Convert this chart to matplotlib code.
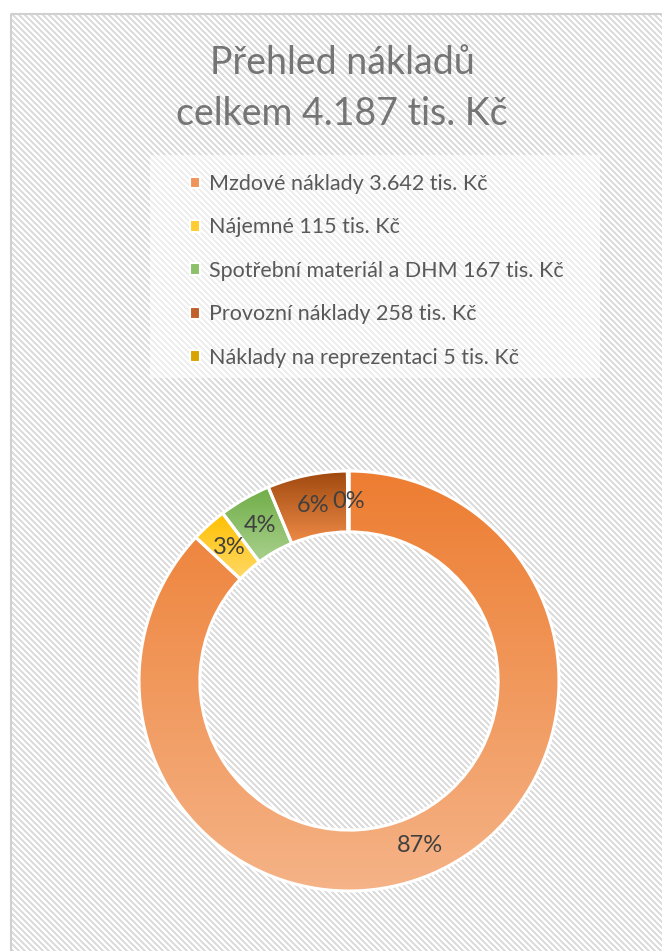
import numpy as np
import matplotlib.pyplot as plt
from matplotlib.patches import Patch, Rectangle
from matplotlib.colors import to_rgb

plt.rcParams['font.family'] = ['Lato', 'DejaVu Sans']

# data
categories = ["Mzdové náklady", "Nájemné", "Spotřební materiál a DHM",
              "Provozní náklady", "Náklady na reprezentaci"]
values = [3642, 115, 167, 258, 5]
top_colors = ["#ED7D31", "#FFC000", "#70AD47", "#9E480E", "#B08A00"]
bottom_colors = ["#F5B387", "#FFD966", "#A9D18E", "#EE8A47", "#FFC000"]
legend_colors = ["#F0955A", "#FFCC33", "#8CC06A", "#C0602A", "#D8A500"]

total = sum(values)


def tis(v):
    return f"{v:,}".replace(",", ".")


title_lines = ["Přehled nákladů", f"celkem {tis(total)} tis. Kč"]
labels = [f"{c} {tis(v)} tis. Kč" for c, v in zip(categories, values)]

W, H = 662, 951
fig = plt.figure(figsize=(W / 100, H / 100), dpi=100)

# striped chart background
bg = fig.add_axes([10 / W, 0, 1 - 10 / W, 1 - 13 / H])
bg.set_axis_off()
rows, cols = H - 13, W - 10
jj, ii = np.meshgrid(np.arange(cols), np.arange(rows))
stripe = ((jj - ii) % 6) < 3
img = np.ones((rows, cols, 3))
img[stripe] = 0.87
bg.imshow(img, interpolation="nearest", aspect="auto")
bg.add_patch(Rectangle((0, 0), cols + 20, rows + 20, fill=False,
                       edgecolor="#D0D0D0", linewidth=1.5, clip_on=False))

# legend box
fig.patches.append(Rectangle((150 / W, 1 - 378 / H), 450 / W, 223 / H,
                             transform=fig.transFigure, facecolor="white",
                             alpha=0.55, edgecolor="none"))

# title
for k, line in enumerate(title_lines):
    fig.text(342 / W, 1 - (63 + 51 * k) / H, line, ha="center", va="center",
             fontsize=27, color="#757575")

# donut
ax = fig.add_axes([139 / W, 60 / H, 420 / W, 420 / H])
ring = 0.29
wedges, _, pcts = ax.pie(values, startangle=90, counterclock=False, radius=1,
                         autopct=lambda p: f"{p:.0f}%", pctdistance=1 - ring / 2,
                         wedgeprops=dict(width=ring, edgecolor="white", linewidth=2.2),
                         textprops=dict(fontsize=17, color="#404040"))
for w, c0, c1 in zip(wedges, top_colors, bottom_colors):
    ext = w.get_path().get_extents()
    grad = np.linspace(to_rgb(c0), to_rgb(c1), 256)[:, None, :]
    im = ax.imshow(grad, extent=[ext.x0, ext.x1, ext.y0, ext.y1], origin="upper",
                   aspect="auto", zorder=1.5, interpolation="bilinear")
    im.set_clip_path(w)
    w.set_facecolor("none")
    w.set_zorder(2)
for t in pcts:
    t.set_zorder(4)
ax.set_xlim(-1, 1)
ax.set_ylim(-1, 1)
ax.set_axis_off()

handles = [Patch(facecolor=c, edgecolor="white", linewidth=1.5) for c in legend_colors]
fig.legend(handles, labels, loc="upper left", bbox_to_anchor=(190 / W, 1 - 174 / H),
           frameon=False, fontsize=15.5, labelcolor="#595959", borderpad=0,
           borderaxespad=0, handlelength=0.45, handleheight=0.45,
           handletextpad=0.45, labelspacing=1.09)

fig.savefig("out.png", dpi=100)
